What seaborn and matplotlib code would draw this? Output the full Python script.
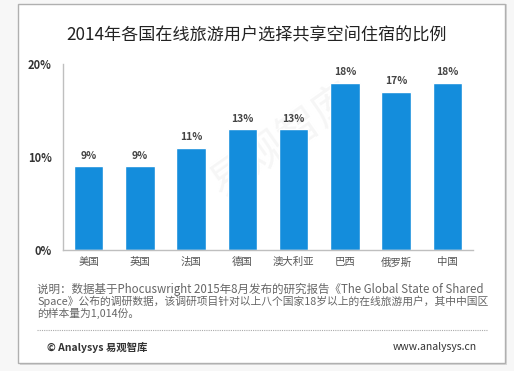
import matplotlib
matplotlib.use("Agg")
import matplotlib.pyplot as plt
import seaborn as sns
import pandas as pd
from matplotlib.patches import Rectangle
from matplotlib.lines import Line2D

countries = ["美国", "英国", "法国", "德国", "澳大利亚", "巴西", "俄罗斯", "中国"]
shares = [9, 9, 11, 13, 13, 18, 17, 18]
y_ticks = [0, 10, 20]
y_tick_labels = ["0%", "10%", "20%"]
title = "2014年各国在线旅游用户选择共享空间住宿的比例"
note_lines = [
    "说明：数据基于Phocuswright 2015年8月发布的研究报告《The Global State of Shared",
    "Space》公布的调研数据，该调研项目针对以上八个国家18岁以上的在线旅游用户，其中中国区",
    "的样本量为1,014份。",
]
footer_left = "© Analysys 易观智库"
footer_right = "www.analysys.cn"

sns.set_theme(style="white")
plt.rcParams['font.family'] = ['Noto Sans CJK SC', 'DejaVu Sans']

W, H = 514, 371
fig = plt.figure(figsize=(W / 100, H / 100), dpi=100)
fig.patch.set_facecolor("#f7f7f7")

# card
fig.patches.append(Rectangle((20 / W, 1 - 365 / H), 487 / W, 361 / H, transform=fig.transFigure,
                             facecolor="#d9d9d9", edgecolor="none", zorder=-2))
fig.patches.append(Rectangle((18 / W, 1 - 363 / H), 487 / W, 359 / H, transform=fig.transFigure,
                             facecolor="white", edgecolor="#b0b0b0", linewidth=1.0, zorder=-1))

# watermark
fig.text(0.55, 0.62, "易观智库", fontsize=30, color="#f6f6f6", rotation=35,
         ha="center", va="center", zorder=-0.5)

ax = fig.add_axes([63 / W, 1 - 250 / H, 410 / W, 186 / H])
ax.set_zorder(2)
ax.set_facecolor("none")
df = pd.DataFrame({"country": countries, "share": shares})
sns.barplot(data=df, x="country", y="share", color="#148ddc", saturation=1, width=0.58, ax=ax)

ax.set_ylim(0, 20)
ax.set_xlim(-0.5, len(countries) - 0.5)
ax.set_yticks(y_ticks)
ax.set_yticklabels(y_tick_labels, fontsize=8, color="#333333", fontweight="bold")
ax.tick_params(axis="y", length=0, pad=8)
ax.tick_params(axis="x", length=0, pad=5, labelsize=7.5, labelcolor="#555555")
ax.set_xlabel("")
ax.set_ylabel("")
for s in ["top", "right"]:
    ax.spines[s].set_visible(False)
for s in ["left", "bottom"]:
    ax.spines[s].set_color("#bfbfbf")
    ax.spines[s].set_linewidth(1.0)

for i, v in enumerate(shares):
    ax.annotate(f"{v}%", (i, v), xytext=(0, 4), textcoords="offset points",
                ha="center", va="bottom", fontsize=7.5, fontweight="bold", color="#444444")

fig.text(257 / W, 1 - 35 / H, title, fontsize=12.3, color="#222222", ha="center", va="center")

ys = [289, 301, 313]
sizes = [8.3, 7.75, 7.75]
for line, y, fs in zip(note_lines, ys, sizes):
    fig.text(37 / W, 1 - y / H, line, fontsize=fs, color="#666666", ha="left", va="center")

fig.add_artist(Line2D([37 / W, 487 / W], [1 - 330 / H, 1 - 330 / H], transform=fig.transFigure,
                      color="#aaaaaa", linewidth=0.8, linestyle=(0, (1, 1))))
fig.text(47 / W, 1 - 347 / H, footer_left, fontsize=7.5, color="#333333", ha="left", va="center",
         fontweight="bold")
fig.text(477 / W, 1 - 347 / H, footer_right, fontsize=7.5, color="#333333", ha="right", va="center")

fig.savefig("out.png", dpi=100, facecolor=fig.get_facecolor())
